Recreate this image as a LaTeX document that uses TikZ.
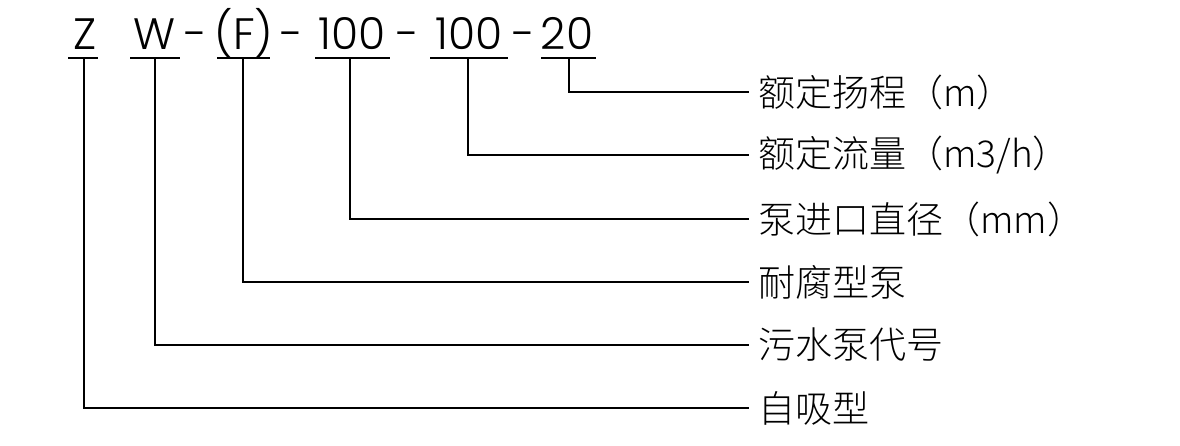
\documentclass[tikz,border=0pt]{standalone}
\usepackage{fontspec}
\setmainfont{Poppins Light}
\newfontfamily\cjk{Noto Sans CJK SC Light}
\begin{document}
\begin{tikzpicture}[x=1pt,y=-1pt,
  code/.style={anchor=base,inner sep=0pt,font=\fontsize{44}{50}\selectfont},
  lab/.style={anchor=west,inner sep=0pt,font=\cjk\fontsize{37}{40}\selectfont},
  uline/.style={line width=2.8pt},
  conn/.style={line width=2.8pt,line cap=rect}]
\useasboundingbox (0,0) rectangle (1180,446);
% code text
\node[code] (cZ) at (85,50) {Z};
\node[code] (cW) at (155,50) {W};
\node[code] (d1) at (196,50) {-};
\node[code] (cF) at (244,50) {(F)};
\node[code] (d2) at (292,50) {-};
\node[code] (cA) at (352,50) {100};
\node[code] (d3) at (408,50) {-};
\node[code] (cB) at (469,50) {100};
\node[code] (d4) at (524,50) {-};
\node[code] (cC) at (567,50) {20};
% underlines
\draw[uline] (68,58) -- (98,58);
\draw[uline] (130,58) -- (180,58);
\draw[uline] (217,58) -- (270,58);
\draw[uline] (315,58) -- (390,58);
\draw[uline] (430,58) -- (508,58);
\draw[uline] (541,58) -- (596,58);
\coordinate (uZ) at (84,58);
\coordinate (uW) at (155,58);
\coordinate (uF) at (243,58);
\coordinate (uA) at (350,58);
\coordinate (uB) at (468,58);
\coordinate (uC) at (569,58);
% labels
\node[lab] (l1) at (758,92) {额定扬程（m）};
\node[lab] (l2) at (758,155) {额定流量（m3/h）};
\node[lab] (l3) at (758,219) {泵进口直径（mm）};
\node[lab] (l4) at (758,282) {耐腐型泵};
\node[lab] (l5) at (758,345) {污水泵代号};
\node[lab] (l6) at (758,408) {自吸型};
% connectors
\foreach \u/\l in {uC/l1,uB/l2,uA/l3,uF/l4,uW/l5,uZ/l6}
  \draw[conn] (\u) |- ([xshift=-10pt]\l.west);
\end{tikzpicture}
\end{document}
